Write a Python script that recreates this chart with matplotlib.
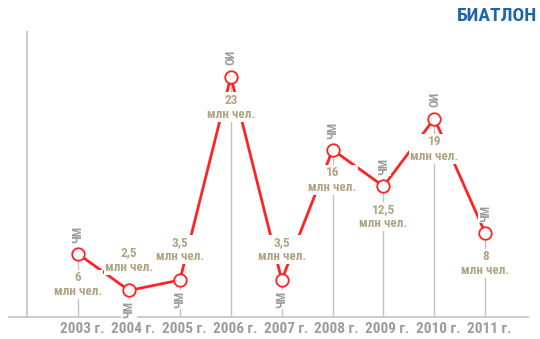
import matplotlib
matplotlib.use("Agg")
import matplotlib.pyplot as plt
import matplotlib.transforms as mtransforms

# Biathlon TV audience by year
years = [2003, 2004, 2005, 2006, 2007, 2008, 2009, 2010, 2011]
audience = [6, 2.5, 3.5, 23, 3.5, 16, 12.5, 19, 8]
value_labels = ['6', '2,5', '3,5', '23', '3,5', '16', '12,5', '19', '8']
events = ['ЧМ', 'ЧМ', 'ЧМ', 'ОИ', 'ЧМ', 'ЧМ', 'ЧМ', 'ОИ', 'ЧМ']
year_labels = [f'{y} г.' for y in years]
title = 'БИАТЛОН'

plt.rcParams['font.family'] = ['Roboto Condensed', 'DejaVu Sans']

red = '#ff2424'
grey = '#c2c2c2'
beige = '#b0a585'
label_grey = '#9c9c9c'

fig = plt.figure(figsize=(5.4, 3.39), dpi=100)
ax = fig.add_axes([9/540, 1 - 316.5/339, 519/540, 285.5/339])
ax.set_xlim(2001.64, 2011.84)
ax.set_ylim(0, 27.4)

for s in ['top', 'right', 'left']:
    ax.spines[s].set_visible(False)
ax.spines['bottom'].set_color(grey)
ax.spines['bottom'].set_linewidth(1.2)
ax.axvline(2002, color=grey, lw=1.2)
ax.set_yticks([])

# grey stems from the baseline up to each point
ax.vlines(years, 0, audience, color=grey, lw=1, zorder=1)

ax.plot(years, audience, color=red, lw=2, zorder=2,
        marker='o', markersize=9, markerfacecolor='white',
        markeredgecolor=red, markeredgewidth=1.3)

box = dict(facecolor='white', edgecolor='none', pad=0.8)
for x, y, v, ev in zip(years, audience, value_labels, events):
    low = y < 5  # small values get their label above the point
    sgn = 1 if low else -1
    ax.annotate(f'{v}\nмлн чел.', (x, y), xytext=(0, sgn * 12),
                textcoords='offset points', ha='center',
                va='bottom' if low else 'top', color=beige,
                fontsize=9.5, fontweight='bold', linespacing=1.15,
                bbox=box, zorder=3)
    ax.annotate(ev, (x, y), xytext=(0, -sgn * 14),
                textcoords='offset points', ha='center', va='center',
                rotation=90, color=label_grey, fontsize=9,
                fontweight='bold', bbox=box, zorder=3)

ax.set_xticks(years, year_labels)
ax.tick_params(axis='x', length=0, pad=4, labelsize=11, labelcolor=label_grey)
offset = mtransforms.ScaledTranslation(4/100, 0, fig.dpi_scale_trans)
for lbl in ax.get_xticklabels():
    lbl.set_fontweight('bold')
    lbl.set_transform(lbl.get_transform() + offset)

fig.text(537/540, 1 - 16/339, title, ha='right', va='center',
         color='#1f67a3', fontsize=14, fontweight='bold')

fig.savefig('out.png', dpi=100)
